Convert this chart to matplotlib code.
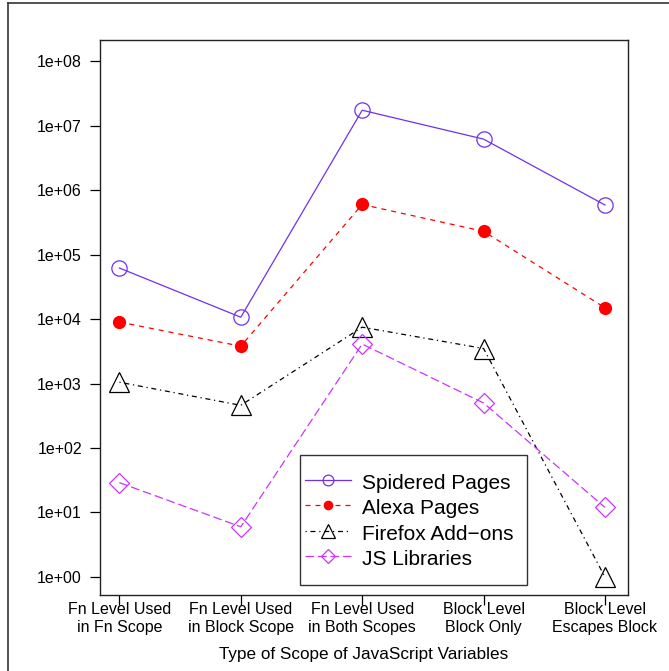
import matplotlib
matplotlib.use("Agg")
import matplotlib.pyplot as plt
from matplotlib.lines import Line2D
from matplotlib.patches import Rectangle

plt.rcParams["font.family"] = ["Liberation Sans", "DejaVu Sans"]

categories = [
    "Fn Level Used\nin Fn Scope",
    "Fn Level Used\nin Block Scope",
    "Fn Level Used\nin Both Scopes",
    "Block Level\nBlock Only",
    "Block Level\nEscapes Block",
]
spidered = [6.2e4, 1.07e4, 1.74e7, 6.2e6, 5.9e5]
alexa = [9.0e3, 3.8e3, 6.0e5, 2.3e5, 1.5e4]
firefox = [1.05e3, 4.6e2, 7.5e3, 3.5e3, 1.0]
jslibs = [29, 6, 4.1e3, 500, 12]
ytick_vals = [1e0, 1e1, 1e2, 1e3, 1e4, 1e5, 1e6, 1e7, 1e8]
ytick_labels = ["1e+00", "1e+01", "1e+02", "1e+03", "1e+04",
                "1e+05", "1e+06", "1e+07", "1e+08"]

W, H = 669, 671
fig = plt.figure(figsize=(W / 100, H / 100), dpi=100)
ax = fig.add_axes([100 / W, 76 / H, 528 / W, 555 / H])

x = list(range(1, len(categories) + 1))
ax.plot(x, spidered, color="#7030F0", lw=0.9, ls="-", marker="o",
        ms=11, mfc="none", mec="#7030F0", mew=0.9, label="Spidered Pages")
ax.plot(x, alexa, color="red", lw=0.9, ls=(0, (4, 4)), marker="o",
        ms=8.5, mfc="red", mec="red", label="Alexa Pages")
ax.plot(x, firefox, color="black", lw=0.9, ls=(0, (1, 3, 4, 3)), marker="^",
        ms=15, mfc="none", mec="black", mew=0.9, label="Firefox Add\u2212ons")
ax.plot(x, jslibs, color="#CC33FF", lw=0.9, ls=(0, (7, 3)), marker="D",
        ms=10, mfc="none", mec="#CC33FF", mew=0.9, label="JS Libraries")

ax.set_yscale("log")
ax.set_xlim(0.84, 5.19)
ax.set_ylim(10 ** -0.28, 10 ** 8.33)
ax.set_yticks(ytick_vals)
ax.set_yticklabels(ytick_labels)
ax.yaxis.set_minor_locator(matplotlib.ticker.NullLocator())
ax.set_xticks(x)
ax.set_xticklabels(categories, linespacing=1.25)
ax.tick_params(axis="both", direction="out", length=7, width=0.9,
               labelsize=11.5, pad=2)
ax.tick_params(axis="x", length=7, pad=-2)
ax.tick_params(axis="y", pad=6)
ax.set_xlabel("Type of Scope of JavaScript Variables", fontsize=12.3,
              labelpad=9)
for s in ax.spines.values():
    s.set_linewidth(1.0)
    s.set_color("#222222")

# legend entries without frame, box drawn separately behind them
leg = ax.legend(loc="center left", bbox_to_anchor=(305 / W, 1 - 520 / H),
                bbox_transform=fig.transFigure, fontsize=15, frameon=False,
                handlelength=2.2, handletextpad=0.55, borderpad=0,
                labelspacing=0.16, handleheight=1.22, markerscale=0.7,
                borderaxespad=0)
leg.set_zorder(6)
ax.add_patch(Rectangle((300 / W, 1 - 585 / H), 227 / W, 130 / H,
                       transform=fig.transFigure, fill=True, fc="white",
                       ec="#333333", lw=1.0, zorder=5, clip_on=False))

# outer border
fig.add_artist(Line2D([8 / W, 1.0], [1 - 3 / H, 1 - 3 / H],
                      transform=fig.transFigure, color="#333333", lw=1.2))
fig.add_artist(Line2D([8 / W, 8 / W], [0.0, 1 - 3 / H],
                      transform=fig.transFigure, color="#333333", lw=1.2))

fig.savefig("out.png", dpi=100)
